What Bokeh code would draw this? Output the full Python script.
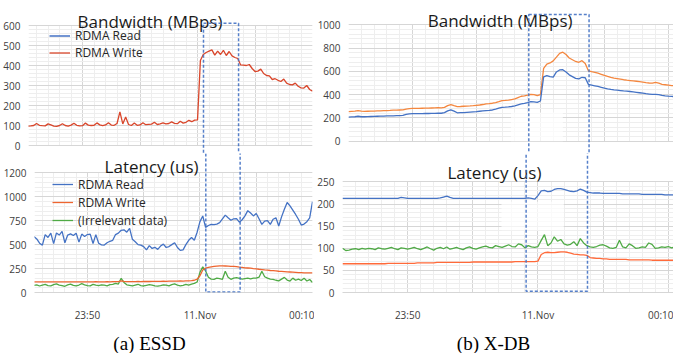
import numpy as np
from bokeh.plotting import figure
from bokeh.models import FixedTicker, Label, BoxAnnotation, Legend, LegendItem, Range1d, Grid
from bokeh.layouts import row, column
from bokeh.embed import file_html
from bokeh.resources import INLINE

# ---------------- data (minutes relative to 11.Nov 00:00) ----------------
essd_t0, essd_dt = -14.75, 0.25
xdb_t0, xdb_dt = -15.0, 0.25

essd_bw_write = [
    97, 98, 100, 110, 101, 99, 98, 108, 103, 97,
    96, 100, 109, 100, 97, 102, 111, 101, 98, 99,
    112, 102, 100, 101, 113, 103, 99, 103, 114, 102,
    101, 110, 168, 108, 143, 105, 100, 112, 101, 103,
    114, 104, 106, 107, 116, 105, 108, 113, 108, 110,
    118, 111, 109, 121, 112, 116, 126, 119, 127, 128,
    425, 455, 465, 472, 478, 452, 472, 455, 476, 450,
    470, 448, 440, 435, 403, 402, 400, 405, 385, 370,
    372, 382, 360, 350, 348, 330, 334, 326, 320, 332,
    312, 305, 303, 312, 296, 288, 287, 300, 280, 272]
essd_bw_read = [float("nan")]  # listed in legend, no visible values in the chart

essd_lat_read = [
    585, 560, 515, 495, 605, 575, 620, 510, 622, 600,
    638, 520, 600, 612, 595, 620, 526, 610, 585, 605,
    610, 512, 605, 515, 497, 495, 520, 535, 545, 605,
    620, 650, 655, 630, 670, 555, 530, 500, 495, 480,
    445, 490, 460, 472, 450, 485, 505, 470, 480, 500,
    520, 470, 440, 445, 500, 545, 575, 545, 630, 740,
    800, 680, 700, 712, 708, 715, 730, 770, 808, 780,
    755, 770, 772, 735, 760, 800, 855, 830, 800, 825,
    770, 712, 745, 750, 712, 765, 780, 695, 790, 870,
    940, 905, 860, 815, 765, 705, 715, 740, 780, 950]
essd_lat_write = [
    110, 111, 110, 111, 112, 111, 110, 111, 112, 111,
    110, 111, 112, 111, 110, 111, 112, 112, 111, 110,
    111, 112, 113, 112, 111, 112, 113, 112, 113, 114,
    113, 122, 116, 114, 114, 113, 114, 115, 114, 115,
    116, 115, 116, 117, 116, 117, 118, 117, 118, 119,
    118, 119, 120, 119, 121, 122, 124, 128, 140, 175,
    235, 255, 262, 268, 272, 276, 278, 278, 277, 275,
    273, 272, 270, 265, 262, 258, 256, 254, 250, 247,
    243, 240, 236, 233, 230, 228, 225, 222, 220, 218,
    216, 214, 212, 210, 208, 207, 206, 205, 205, 206]
essd_lat_other = [
    75, 80, 68, 78, 85, 72, 70, 82, 90, 78,
    72, 65, 80, 88, 75, 70, 78, 92, 80, 72,
    70, 85, 78, 72, 80, 76, 70, 82, 85, 95,
    88, 148, 105, 80, 75, 70, 78, 86, 72, 68,
    75, 82, 78, 70, 66, 72, 80, 76, 70, 82,
    90, 78, 70, 75, 84, 78, 88, 95, 110, 210,
    268, 225, 160, 140, 138, 150, 145, 138, 222, 160,
    138, 150, 155, 148, 140, 145, 150, 142, 150, 150,
    160, 222, 165, 150, 140, 138, 128, 122, 140, 158,
    130, 120, 150, 128, 140, 125, 150, 120, 135, 105]

xdb_bw_write = [
    254, 256, 258, 263, 258, 256, 257, 258, 259, 260,
    261, 262, 263, 264, 266, 267, 268, 269, 276, 280,
    281, 282, 282, 283, 284, 284, 285, 286, 287, 286,
    290, 305, 314, 305, 297, 298, 300, 302, 303, 305,
    308, 311, 315, 320, 322, 326, 332, 340, 349, 350,
    352, 358, 364, 375, 386, 390, 395, 403, 400, 392,
    400, 625, 663, 672, 690, 722, 755, 765, 745, 715,
    700, 685, 678, 692, 668, 605, 598, 592, 584, 575,
    565, 556, 548, 541, 537, 533, 528, 524, 521, 518,
    515, 511, 507, 503, 500, 498, 505, 498, 488, 485,
    482, 478, 476]
xdb_bw_read = [
    206, 208, 210, 214, 210, 210, 211, 212, 213, 214,
    215, 216, 217, 218, 218, 219, 220, 221, 230, 235,
    236, 236, 237, 237, 238, 238, 239, 239, 240, 240,
    245, 260, 269, 258, 244, 245, 246, 248, 250, 252,
    254, 257, 260, 263, 265, 268, 275, 283, 291, 292,
    294, 298, 304, 312, 320, 325, 332, 340, 337, 333,
    345, 552, 563, 555, 550, 595, 612, 614, 595, 570,
    555, 540, 535, 549, 545, 488, 482, 476, 470, 463,
    456, 450, 445, 441, 438, 435, 432, 430, 427, 424,
    420, 416, 412, 408, 405, 402, 402, 400, 394, 390,
    387, 385, 383]
xdb_lat_read = [
    213, 213, 213, 213, 213, 213, 213, 213, 213, 213,
    213, 213, 213, 213, 213, 213, 213, 213, 215, 214,
    213, 213, 213, 213, 213, 213, 213, 213, 213, 213,
    214, 216, 218, 215, 213, 213, 213, 213, 213, 213,
    213, 213, 213, 213, 213, 213, 213, 213, 213, 213,
    213, 213, 213, 213, 213, 213, 213, 214, 213, 211,
    219, 230, 231, 228, 229, 233, 235, 235, 233, 231,
    229, 228, 230, 234, 231, 227, 226, 225, 225, 225,
    224, 224, 224, 224, 224, 224, 223, 223, 223, 223,
    223, 223, 222, 222, 222, 222, 222, 222, 222, 221,
    221, 221, 221]
xdb_lat_write = [
    65, 65, 65, 65, 65, 65, 65, 65, 65, 65,
    65, 65, 65, 65, 66, 66, 66, 66, 66, 66,
    66, 66, 66, 67, 67, 67, 67, 67, 67, 68,
    68, 68, 68, 68, 68, 68, 68, 68, 68, 68,
    69, 69, 69, 69, 69, 69, 69, 69, 69, 69,
    69, 69, 69, 70, 70, 70, 70, 70, 70, 70,
    71, 86, 90, 91, 90, 90, 91, 92, 92, 91,
    89, 87, 86, 85, 85, 84, 79, 78, 77, 77,
    76, 76, 75, 75, 75, 75, 75, 75, 74, 74,
    74, 74, 74, 74, 74, 73, 73, 73, 73, 73,
    73, 73, 73]
xdb_lat_other = [
    100, 95, 96, 98, 99, 97, 100, 98, 100, 99,
    97, 101, 99, 98, 100, 102, 99, 97, 101, 100,
    98, 100, 102, 99, 97, 100, 103, 99, 96, 100,
    102, 99, 103, 98, 100, 102, 99, 97, 101, 103,
    100, 98, 101, 103, 105, 102, 101, 106, 104, 102,
    105, 108, 104, 103, 110, 108, 101, 106, 103, 102,
    104, 118, 131, 106, 112, 126, 116, 120, 110, 107,
    109, 115, 106, 122, 112, 106, 103, 102, 104, 107,
    108, 105, 101, 100, 102, 118, 103, 101, 110, 106,
    100, 101, 103, 102, 112, 109, 100, 101, 103, 102,
    104, 101, 103]

time_labels = {-10: "23:50", 0: "11.Nov", 10: "00:10"}
series_names = ["RDMA Read", "RDMA Write", "(Irrelevant data)"]
captions = ["(a) ESSD", "(b) X-DB"]

essd_t = (essd_t0 + essd_dt * np.arange(len(essd_bw_write))).tolist()
xdb_t = (xdb_t0 + xdb_dt * np.arange(len(xdb_bw_read))).tolist()

# ---------------- styling ----------------
FONT = "Open Sans"
TXT = "#404040"
MAJ = "#d6d6d6"
MIN = "#eeeeee"
BLUE = "#4472C4"
RED = "#D9462B"
ORANGE_L = "#EE6530"
GREEN = "#4FAA45"
ORANGE_R = "#F4873F"
ORANGE_RL = "#FF6A3A"
BOX = "#4472C4"
HAS_CB = "cross_bounds" in Grid.properties()
GRID_X_MAJOR = [-10, -5, 0, 5, 10]
GRID_X_MINOR = list(range(-15, 12))


def make_fig(w, h, xr, yr, mb, yticks, yminor_step, ytop, show_x):
    p = figure(width=w, height=h, x_range=Range1d(*xr), y_range=Range1d(*yr),
               output_backend="svg", toolbar_location=None,
               min_border_left=mb[0], min_border_right=mb[1],
               min_border_top=mb[2], min_border_bottom=mb[3])
    p.outline_line_color = None
    p.background_fill_color = "white"
    p.border_fill_color = "white"
    yminor = np.arange(0, ytop + 1e-9, yminor_step).tolist()
    yt = FixedTicker(ticks=yticks, minor_ticks=yminor)
    gx = FixedTicker(ticks=GRID_X_MAJOR, minor_ticks=GRID_X_MINOR)
    p.yaxis.ticker = yt
    p.ygrid.ticker = yt
    p.xgrid.ticker = gx
    for g in (p.xgrid, p.ygrid):
        g.grid_line_color = MAJ
        g.minor_grid_line_color = MIN
        g.grid_line_width = 1
    if HAS_CB:
        p.xgrid.cross_bounds = (0, ytop)
    else:
        p.xgrid.visible = False
        p.segment(x0=GRID_X_MINOR, x1=GRID_X_MINOR, y0=[0] * len(GRID_X_MINOR),
                  y1=[ytop] * len(GRID_X_MINOR), line_color=MIN, line_width=1, level="underlay")
        p.segment(x0=GRID_X_MAJOR, x1=GRID_X_MAJOR, y0=[0] * len(GRID_X_MAJOR),
                  y1=[ytop] * len(GRID_X_MAJOR), line_color=MAJ, line_width=1, level="underlay")
    p.yaxis.axis_line_color = None
    p.yaxis.major_tick_line_color = None
    p.yaxis.minor_tick_line_color = None
    p.yaxis.major_label_text_font = FONT
    p.yaxis.major_label_text_font_size = "10px"
    p.yaxis.major_label_text_color = TXT
    p.yaxis.major_label_standoff = 2
    if show_x:
        p.xaxis.ticker = FixedTicker(ticks=[-10, 0, 10])
        p.xaxis.major_label_overrides = time_labels
        p.xaxis.axis_line_color = MAJ
        p.xaxis.major_tick_line_color = None
        p.xaxis.minor_tick_line_color = None
        p.xaxis.major_label_text_font = FONT
        p.xaxis.major_label_text_font_size = "10px"
        p.xaxis.major_label_text_color = TXT
        p.xaxis.major_label_standoff = 9
    else:
        p.xaxis.visible = False
    return p


def title(p, x, y, text):
    p.add_layout(Label(x=x, y=y, text=text, text_font=FONT, text_font_size="17px",
                       text_align="center", text_baseline="alphabetic", text_color="#1a1a1a"))


def legend(p, items, loc, rowh):
    lg = Legend(items=[LegendItem(label=n, renderers=[r]) for n, r in items], location=loc,
                border_line_color=None, background_fill_alpha=0, padding=0, margin=0, spacing=0,
                label_height=rowh, glyph_height=rowh, glyph_width=21, label_standoff=5,
                label_text_font=FONT, label_text_font_size="12px", label_text_color="#262626")
    p.add_layout(lg)


def dashed_box(p, l, r, t, b):
    p.add_layout(BoxAnnotation(left=l, right=r, top=t, bottom=b, fill_alpha=0, fill_color=None,
                               line_color=BOX, line_width=1.5, line_dash="3 2", line_alpha=0.9))


LW = 1.3
ESSD_X = (-14.7, 10.0)
XDB_X = (-15.0, 10.4)
essd_box = (0.52, 3.57)
xdb_box = (-0.91, 3.8)
WL, WR = 314, 359
HT, HB = 153, 171

# ---------------- (a) ESSD ----------------
a_bw = make_fig(WL, HT, ESSD_X, (-40, 725), (28, 2, 0, 0), list(range(0, 601, 100)), 20, 600, False)
r1 = a_bw.line(x=essd_t[:1], y=essd_bw_read, line_color=BLUE, line_width=1.5)
r2 = a_bw.line(essd_t, essd_bw_write, line_color=RED, line_width=LW)
legend(a_bw, [(series_names[0], r1), (series_names[1], r2)], (21, 92), 17)
title(a_bw, -4.13, 621, "Bandwidth (MBps)")
dashed_box(a_bw, essd_box[0], essd_box[1], 611, -150)

a_lat = make_fig(WL, HB, ESSD_X, (0, 1452), (28, 2, 0, 27), [0, 250, 500, 750, 1000, 1250], 50, 1250, True)
a_lat.yaxis.major_label_overrides = {1250: "1200"}
g1 = a_lat.line(essd_t, essd_lat_other, line_color=GREEN, line_width=LW)
w1 = a_lat.line(essd_t, essd_lat_write, line_color=ORANGE_L, line_width=LW)
b1 = a_lat.line(essd_t, essd_lat_read, line_color=BLUE, line_width=LW)
legend(a_lat, [(series_names[0], b1), (series_names[1], w1), (series_names[2], g1)], (18, 63), 18)
title(a_lat, -4.30, 1313, "Latency (us)")
dashed_box(a_lat, essd_box[0], essd_box[1], 2000, 6)

# ---------------- (b) X-DB ----------------
b_bw = make_fig(WR, HT, XDB_X, (-106, 1209), (26, 0, 0, 0), list(range(0, 1001, 200)), 40, 1000, False)
b_bw.add_layout(BoxAnnotation(left=-2.3, right=1.75, bottom=0, top=246, fill_color="white",
                              fill_alpha=0.7, line_color=None, level="underlay"))
b_bw.line(xdb_t, xdb_bw_write, line_color=ORANGE_R, line_width=LW)
b_bw.line(xdb_t, xdb_bw_read, line_color=BLUE, line_width=LW)
title(b_bw, -3.15, 1037, "Bandwidth (MBps)")
dashed_box(b_bw, xdb_box[0], xdb_box[1], 1088, -400)

b_lat = make_fig(WR, HB, XDB_X, (0, 314.4), (26, 0, 0, 26), list(range(0, 251, 50)), 10, 250, True)
b_lat.add_layout(BoxAnnotation(left=-2.8, right=1.98, bottom=141, top=205, fill_color="white",
                               fill_alpha=0.7, line_color=None, level="underlay"))
b_lat.line(xdb_t, xdb_lat_other, line_color=GREEN, line_width=LW)
b_lat.line(xdb_t, xdb_lat_write, line_color=ORANGE_RL, line_width=LW)
b_lat.line(xdb_t, xdb_lat_read, line_color=BLUE, line_width=LW)
title(b_lat, -3.34, 271.7, "Latency (us)")
dashed_box(b_lat, xdb_box[0], xdb_box[1], 600, 3)

# ---------------- captions ----------------
CAP_H = 29
cap = figure(width=WL + WR, height=CAP_H, x_range=Range1d(0, WL + WR), y_range=Range1d(0, CAP_H),
             output_backend="svg", toolbar_location=None, x_axis_type=None, y_axis_type=None,
             min_border=0)
cap.outline_line_color = None
cap.grid.visible = False
for cx, txt in zip([149, 493], captions):
    cap.add_layout(Label(x=cx, y=10, text=txt, text_font="Liberation Serif", text_font_size="19px",
                         text_align="center", text_baseline="alphabetic", text_color="black"))

layout = column(row(a_bw, b_bw), row(a_lat, b_lat), cap)
open("out.html", "w").write(file_html(layout, INLINE))
